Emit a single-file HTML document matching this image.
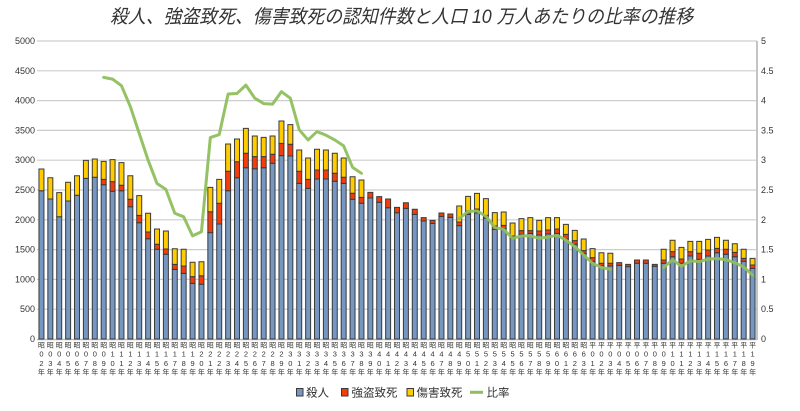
<!DOCTYPE html>
<html><head><meta charset="utf-8"><style>
html,body{margin:0;padding:0;background:#fff;}
svg{display:block;}
text{font-family:"Liberation Sans","Noto Sans CJK JP",sans-serif;fill:#333;}
.cjk{font-family:"Liberation Sans","Noto Sans CJK JP",sans-serif;}
</style></head><body>
<svg width="800" height="411" viewBox="0 0 800 411" xmlns="http://www.w3.org/2000/svg">
<rect width="800" height="411" fill="#fff"/>
<text x="401.5" y="23" font-size="19" font-style="italic" text-anchor="middle" textLength="583" lengthAdjust="spacingAndGlyphs" fill="#333">殺人、強盗致死、傷害致死の認知件数と人口 10 万人あたりの比率の推移</text>
<g stroke="#cdcdcd" stroke-width="1.2">
<line x1="37" x2="757" y1="309.2" y2="309.2"/><line x1="37" x2="757" y1="279.4" y2="279.4"/><line x1="37" x2="757" y1="249.6" y2="249.6"/><line x1="37" x2="757" y1="219.8" y2="219.8"/><line x1="37" x2="757" y1="190" y2="190"/><line x1="37" x2="757" y1="160.2" y2="160.2"/><line x1="37" x2="757" y1="130.4" y2="130.4"/><line x1="37" x2="757" y1="100.6" y2="100.6"/><line x1="37" x2="757" y1="70.8" y2="70.8"/><line x1="37" x2="757" y1="41" y2="41"/>
</g>
<line x1="37" x2="757" y1="339.5" y2="339.5" stroke="#bbb" stroke-width="1.5"/>
<line x1="757" x2="757" y1="41" y2="340" stroke="#c4c4c4" stroke-width="2"/>
<g font-size="9" text-anchor="end">
<text x="35" y="342">0</text><text x="35" y="312.2">500</text><text x="35" y="282.4">1000</text><text x="35" y="252.6">1500</text><text x="35" y="222.8">2000</text><text x="35" y="193">2500</text><text x="35" y="163.2">3000</text><text x="35" y="133.4">3500</text><text x="35" y="103.6">4000</text><text x="35" y="73.8">4500</text><text x="35" y="44">5000</text>
</g>
<g font-size="9">
<text x="761" y="342">0</text><text x="761" y="312.2">0.5</text><text x="761" y="282.4">1</text><text x="761" y="252.6">1.5</text><text x="761" y="222.8">2</text><text x="761" y="193">2.5</text><text x="761" y="163.2">3</text><text x="761" y="133.4">3.5</text><text x="761" y="103.6">4</text><text x="761" y="73.8">4.5</text><text x="761" y="44">5</text>
</g>
<g transform="matrix(8.8889 0 0 -0.0596 32.556 339)" stroke="#3a3a3a" stroke-width="1">
<g fill="#7597c2">
<rect vector-effect="non-scaling-stroke" x="0.72" y="0" width="0.56" height="2488"/>
<rect vector-effect="non-scaling-stroke" x="1.72" y="0" width="0.56" height="2349"/>
<rect vector-effect="non-scaling-stroke" x="2.72" y="0" width="0.56" height="2052"/>
<rect vector-effect="non-scaling-stroke" x="3.72" y="0" width="0.56" height="2315"/>
<rect vector-effect="non-scaling-stroke" x="4.72" y="0" width="0.56" height="2411"/>
<rect vector-effect="non-scaling-stroke" x="5.72" y="0" width="0.56" height="2696"/>
<rect vector-effect="non-scaling-stroke" x="6.72" y="0" width="0.56" height="2713"/>
<rect vector-effect="non-scaling-stroke" x="7.72" y="0" width="0.56" height="2589"/>
<rect vector-effect="non-scaling-stroke" x="8.72" y="0" width="0.56" height="2478"/>
<rect vector-effect="non-scaling-stroke" x="9.72" y="0" width="0.56" height="2488"/>
<rect vector-effect="non-scaling-stroke" x="10.72" y="0" width="0.56" height="2220"/>
<rect vector-effect="non-scaling-stroke" x="11.72" y="0" width="0.56" height="1951"/>
<rect vector-effect="non-scaling-stroke" x="12.72" y="0" width="0.56" height="1683"/>
<rect vector-effect="non-scaling-stroke" x="13.72" y="0" width="0.56" height="1505"/>
<rect vector-effect="non-scaling-stroke" x="14.72" y="0" width="0.56" height="1421"/>
<rect vector-effect="non-scaling-stroke" x="15.72" y="0" width="0.56" height="1169"/>
<rect vector-effect="non-scaling-stroke" x="16.72" y="0" width="0.56" height="1102"/>
<rect vector-effect="non-scaling-stroke" x="17.72" y="0" width="0.56" height="934"/>
<rect vector-effect="non-scaling-stroke" x="18.72" y="0" width="0.56" height="918"/>
<rect vector-effect="non-scaling-stroke" x="19.72" y="0" width="0.56" height="1784"/>
<rect vector-effect="non-scaling-stroke" x="20.72" y="0" width="0.56" height="1930"/>
<rect vector-effect="non-scaling-stroke" x="21.72" y="0" width="0.56" height="2488"/>
<rect vector-effect="non-scaling-stroke" x="22.72" y="0" width="0.56" height="2706"/>
<rect vector-effect="non-scaling-stroke" x="23.72" y="0" width="0.56" height="2874"/>
<rect vector-effect="non-scaling-stroke" x="24.72" y="0" width="0.56" height="2857"/>
<rect vector-effect="non-scaling-stroke" x="25.72" y="0" width="0.56" height="2874"/>
<rect vector-effect="non-scaling-stroke" x="26.72" y="0" width="0.56" height="2948"/>
<rect vector-effect="non-scaling-stroke" x="27.72" y="0" width="0.56" height="3076"/>
<rect vector-effect="non-scaling-stroke" x="28.72" y="0" width="0.56" height="3071"/>
<rect vector-effect="non-scaling-stroke" x="29.72" y="0" width="0.56" height="2612"/>
<rect vector-effect="non-scaling-stroke" x="30.72" y="0" width="0.56" height="2528"/>
<rect vector-effect="non-scaling-stroke" x="31.72" y="0" width="0.56" height="2685"/>
<rect vector-effect="non-scaling-stroke" x="32.72" y="0" width="0.56" height="2685"/>
<rect vector-effect="non-scaling-stroke" x="33.72" y="0" width="0.56" height="2646"/>
<rect vector-effect="non-scaling-stroke" x="34.72" y="0" width="0.56" height="2612"/>
<rect vector-effect="non-scaling-stroke" x="35.72" y="0" width="0.56" height="2344"/>
<rect vector-effect="non-scaling-stroke" x="36.72" y="0" width="0.56" height="2277"/>
<rect vector-effect="non-scaling-stroke" x="37.72" y="0" width="0.56" height="2366"/>
<rect vector-effect="non-scaling-stroke" x="38.72" y="0" width="0.56" height="2294"/>
<rect vector-effect="non-scaling-stroke" x="39.72" y="0" width="0.56" height="2203"/>
<rect vector-effect="non-scaling-stroke" x="40.72" y="0" width="0.56" height="2119"/>
<rect vector-effect="non-scaling-stroke" x="41.72" y="0" width="0.56" height="2192"/>
<rect vector-effect="non-scaling-stroke" x="42.72" y="0" width="0.56" height="2092"/>
<rect vector-effect="non-scaling-stroke" x="43.72" y="0" width="0.56" height="1980"/>
<rect vector-effect="non-scaling-stroke" x="44.72" y="0" width="0.56" height="1941"/>
<rect vector-effect="non-scaling-stroke" x="45.72" y="0" width="0.56" height="2058"/>
<rect vector-effect="non-scaling-stroke" x="46.72" y="0" width="0.56" height="2041"/>
<rect vector-effect="non-scaling-stroke" x="47.72" y="0" width="0.56" height="1902"/>
<rect vector-effect="non-scaling-stroke" x="48.72" y="0" width="0.56" height="2092"/>
<rect vector-effect="non-scaling-stroke" x="49.72" y="0" width="0.56" height="2114"/>
<rect vector-effect="non-scaling-stroke" x="50.72" y="0" width="0.56" height="2025"/>
<rect vector-effect="non-scaling-stroke" x="51.72" y="0" width="0.56" height="1840"/>
<rect vector-effect="non-scaling-stroke" x="52.72" y="0" width="0.56" height="1851"/>
<rect vector-effect="non-scaling-stroke" x="53.72" y="0" width="0.56" height="1689"/>
<rect vector-effect="non-scaling-stroke" x="54.72" y="0" width="0.56" height="1756"/>
<rect vector-effect="non-scaling-stroke" x="55.72" y="0" width="0.56" height="1773"/>
<rect vector-effect="non-scaling-stroke" x="56.72" y="0" width="0.56" height="1745"/>
<rect vector-effect="non-scaling-stroke" x="57.72" y="0" width="0.56" height="1762"/>
<rect vector-effect="non-scaling-stroke" x="58.72" y="0" width="0.56" height="1773"/>
<rect vector-effect="non-scaling-stroke" x="59.72" y="0" width="0.56" height="1678"/>
<rect vector-effect="non-scaling-stroke" x="60.72" y="0" width="0.56" height="1588"/>
<rect vector-effect="non-scaling-stroke" x="61.72" y="0" width="0.56" height="1437"/>
<rect vector-effect="non-scaling-stroke" x="62.72" y="0" width="0.56" height="1303"/>
<rect vector-effect="non-scaling-stroke" x="63.72" y="0" width="0.56" height="1230"/>
<rect vector-effect="non-scaling-stroke" x="64.72" y="0" width="0.56" height="1225"/>
<rect vector-effect="non-scaling-stroke" x="65.72" y="0" width="0.56" height="1236"/>
<rect vector-effect="non-scaling-stroke" x="66.72" y="0" width="0.56" height="1214"/>
<rect vector-effect="non-scaling-stroke" x="67.72" y="0" width="0.56" height="1270"/>
<rect vector-effect="non-scaling-stroke" x="68.72" y="0" width="0.56" height="1270"/>
<rect vector-effect="non-scaling-stroke" x="69.72" y="0" width="0.56" height="1220"/>
<rect vector-effect="non-scaling-stroke" x="70.72" y="0" width="0.56" height="1270"/>
<rect vector-effect="non-scaling-stroke" x="71.72" y="0" width="0.56" height="1381"/>
<rect vector-effect="non-scaling-stroke" x="72.72" y="0" width="0.56" height="1270"/>
<rect vector-effect="non-scaling-stroke" x="73.72" y="0" width="0.56" height="1393"/>
<rect vector-effect="non-scaling-stroke" x="74.72" y="0" width="0.56" height="1337"/>
<rect vector-effect="non-scaling-stroke" x="75.72" y="0" width="0.56" height="1393"/>
<rect vector-effect="non-scaling-stroke" x="76.72" y="0" width="0.56" height="1448"/>
<rect vector-effect="non-scaling-stroke" x="77.72" y="0" width="0.56" height="1421"/>
<rect vector-effect="non-scaling-stroke" x="78.72" y="0" width="0.56" height="1381"/>
<rect vector-effect="non-scaling-stroke" x="79.72" y="0" width="0.56" height="1304"/>
<rect vector-effect="non-scaling-stroke" x="80.72" y="0" width="0.56" height="1186"/>
</g>
<g fill="#f53d0a">
<rect vector-effect="non-scaling-stroke" x="7.72" y="2589" width="0.56" height="90"/>
<rect vector-effect="non-scaling-stroke" x="8.72" y="2478" width="0.56" height="162"/>
<rect vector-effect="non-scaling-stroke" x="9.72" y="2488" width="0.56" height="91"/>
<rect vector-effect="non-scaling-stroke" x="10.72" y="2220" width="0.56" height="124"/>
<rect vector-effect="non-scaling-stroke" x="11.72" y="1951" width="0.56" height="124"/>
<rect vector-effect="non-scaling-stroke" x="12.72" y="1683" width="0.56" height="112"/>
<rect vector-effect="non-scaling-stroke" x="13.72" y="1505" width="0.56" height="84"/>
<rect vector-effect="non-scaling-stroke" x="14.72" y="1421" width="0.56" height="89"/>
<rect vector-effect="non-scaling-stroke" x="15.72" y="1169" width="0.56" height="84"/>
<rect vector-effect="non-scaling-stroke" x="16.72" y="1102" width="0.56" height="123"/>
<rect vector-effect="non-scaling-stroke" x="17.72" y="934" width="0.56" height="112"/>
<rect vector-effect="non-scaling-stroke" x="18.72" y="918" width="0.56" height="144"/>
<rect vector-effect="non-scaling-stroke" x="19.72" y="1784" width="0.56" height="352"/>
<rect vector-effect="non-scaling-stroke" x="20.72" y="1930" width="0.56" height="347"/>
<rect vector-effect="non-scaling-stroke" x="21.72" y="2488" width="0.56" height="326"/>
<rect vector-effect="non-scaling-stroke" x="22.72" y="2706" width="0.56" height="269"/>
<rect vector-effect="non-scaling-stroke" x="23.72" y="2874" width="0.56" height="242"/>
<rect vector-effect="non-scaling-stroke" x="24.72" y="2857" width="0.56" height="202"/>
<rect vector-effect="non-scaling-stroke" x="25.72" y="2874" width="0.56" height="185"/>
<rect vector-effect="non-scaling-stroke" x="26.72" y="2948" width="0.56" height="151"/>
<rect vector-effect="non-scaling-stroke" x="27.72" y="3076" width="0.56" height="207"/>
<rect vector-effect="non-scaling-stroke" x="28.72" y="3071" width="0.56" height="196"/>
<rect vector-effect="non-scaling-stroke" x="29.72" y="2612" width="0.56" height="202"/>
<rect vector-effect="non-scaling-stroke" x="30.72" y="2528" width="0.56" height="151"/>
<rect vector-effect="non-scaling-stroke" x="31.72" y="2685" width="0.56" height="151"/>
<rect vector-effect="non-scaling-stroke" x="32.72" y="2685" width="0.56" height="151"/>
<rect vector-effect="non-scaling-stroke" x="33.72" y="2646" width="0.56" height="134"/>
<rect vector-effect="non-scaling-stroke" x="34.72" y="2612" width="0.56" height="101"/>
<rect vector-effect="non-scaling-stroke" x="35.72" y="2344" width="0.56" height="101"/>
<rect vector-effect="non-scaling-stroke" x="36.72" y="2277" width="0.56" height="100"/>
<rect vector-effect="non-scaling-stroke" x="37.72" y="2366" width="0.56" height="95"/>
<rect vector-effect="non-scaling-stroke" x="38.72" y="2294" width="0.56" height="94"/>
<rect vector-effect="non-scaling-stroke" x="39.72" y="2203" width="0.56" height="146"/>
<rect vector-effect="non-scaling-stroke" x="40.72" y="2119" width="0.56" height="90"/>
<rect vector-effect="non-scaling-stroke" x="41.72" y="2192" width="0.56" height="95"/>
<rect vector-effect="non-scaling-stroke" x="42.72" y="2092" width="0.56" height="84"/>
<rect vector-effect="non-scaling-stroke" x="43.72" y="1980" width="0.56" height="56"/>
<rect vector-effect="non-scaling-stroke" x="44.72" y="1941" width="0.56" height="50"/>
<rect vector-effect="non-scaling-stroke" x="45.72" y="2058" width="0.56" height="56"/>
<rect vector-effect="non-scaling-stroke" x="46.72" y="2041" width="0.56" height="56"/>
<rect vector-effect="non-scaling-stroke" x="47.72" y="1902" width="0.56" height="61"/>
<rect vector-effect="non-scaling-stroke" x="48.72" y="2092" width="0.56" height="56"/>
<rect vector-effect="non-scaling-stroke" x="49.72" y="2114" width="0.56" height="67"/>
<rect vector-effect="non-scaling-stroke" x="50.72" y="2025" width="0.56" height="50"/>
<rect vector-effect="non-scaling-stroke" x="51.72" y="1840" width="0.56" height="56"/>
<rect vector-effect="non-scaling-stroke" x="52.72" y="1851" width="0.56" height="56"/>
<rect vector-effect="non-scaling-stroke" x="53.72" y="1689" width="0.56" height="39"/>
<rect vector-effect="non-scaling-stroke" x="54.72" y="1756" width="0.56" height="62"/>
<rect vector-effect="non-scaling-stroke" x="55.72" y="1773" width="0.56" height="45"/>
<rect vector-effect="non-scaling-stroke" x="56.72" y="1745" width="0.56" height="67"/>
<rect vector-effect="non-scaling-stroke" x="57.72" y="1762" width="0.56" height="67"/>
<rect vector-effect="non-scaling-stroke" x="58.72" y="1773" width="0.56" height="73"/>
<rect vector-effect="non-scaling-stroke" x="59.72" y="1678" width="0.56" height="78"/>
<rect vector-effect="non-scaling-stroke" x="60.72" y="1588" width="0.56" height="62"/>
<rect vector-effect="non-scaling-stroke" x="61.72" y="1437" width="0.56" height="45"/>
<rect vector-effect="non-scaling-stroke" x="62.72" y="1303" width="0.56" height="62"/>
<rect vector-effect="non-scaling-stroke" x="63.72" y="1230" width="0.56" height="40"/>
<rect vector-effect="non-scaling-stroke" x="64.72" y="1225" width="0.56" height="45"/>
<rect vector-effect="non-scaling-stroke" x="65.72" y="1236" width="0.56" height="45"/>
<rect vector-effect="non-scaling-stroke" x="66.72" y="1214" width="0.56" height="39"/>
<rect vector-effect="non-scaling-stroke" x="67.72" y="1270" width="0.56" height="56"/>
<rect vector-effect="non-scaling-stroke" x="68.72" y="1270" width="0.56" height="56"/>
<rect vector-effect="non-scaling-stroke" x="69.72" y="1220" width="0.56" height="33"/>
<rect vector-effect="non-scaling-stroke" x="70.72" y="1270" width="0.56" height="56"/>
<rect vector-effect="non-scaling-stroke" x="71.72" y="1381" width="0.56" height="84"/>
<rect vector-effect="non-scaling-stroke" x="72.72" y="1270" width="0.56" height="72"/>
<rect vector-effect="non-scaling-stroke" x="73.72" y="1393" width="0.56" height="72"/>
<rect vector-effect="non-scaling-stroke" x="74.72" y="1337" width="0.56" height="101"/>
<rect vector-effect="non-scaling-stroke" x="75.72" y="1393" width="0.56" height="100"/>
<rect vector-effect="non-scaling-stroke" x="76.72" y="1448" width="0.56" height="73"/>
<rect vector-effect="non-scaling-stroke" x="77.72" y="1421" width="0.56" height="84"/>
<rect vector-effect="non-scaling-stroke" x="78.72" y="1381" width="0.56" height="73"/>
<rect vector-effect="non-scaling-stroke" x="79.72" y="1304" width="0.56" height="49"/>
<rect vector-effect="non-scaling-stroke" x="80.72" y="1186" width="0.56" height="56"/>
</g>
<g fill="#ffcc00">
<rect vector-effect="non-scaling-stroke" x="0.72" y="2488" width="0.56" height="364"/>
<rect vector-effect="non-scaling-stroke" x="1.72" y="2349" width="0.56" height="357"/>
<rect vector-effect="non-scaling-stroke" x="2.72" y="2052" width="0.56" height="403"/>
<rect vector-effect="non-scaling-stroke" x="3.72" y="2315" width="0.56" height="314"/>
<rect vector-effect="non-scaling-stroke" x="4.72" y="2411" width="0.56" height="329"/>
<rect vector-effect="non-scaling-stroke" x="5.72" y="2696" width="0.56" height="302"/>
<rect vector-effect="non-scaling-stroke" x="6.72" y="2713" width="0.56" height="307"/>
<rect vector-effect="non-scaling-stroke" x="7.72" y="2679" width="0.56" height="302"/>
<rect vector-effect="non-scaling-stroke" x="8.72" y="2640" width="0.56" height="369"/>
<rect vector-effect="non-scaling-stroke" x="9.72" y="2579" width="0.56" height="380"/>
<rect vector-effect="non-scaling-stroke" x="10.72" y="2344" width="0.56" height="396"/>
<rect vector-effect="non-scaling-stroke" x="11.72" y="2075" width="0.56" height="330"/>
<rect vector-effect="non-scaling-stroke" x="12.72" y="1795" width="0.56" height="314"/>
<rect vector-effect="non-scaling-stroke" x="13.72" y="1589" width="0.56" height="257"/>
<rect vector-effect="non-scaling-stroke" x="14.72" y="1510" width="0.56" height="302"/>
<rect vector-effect="non-scaling-stroke" x="15.72" y="1253" width="0.56" height="262"/>
<rect vector-effect="non-scaling-stroke" x="16.72" y="1225" width="0.56" height="280"/>
<rect vector-effect="non-scaling-stroke" x="17.72" y="1046" width="0.56" height="241"/>
<rect vector-effect="non-scaling-stroke" x="18.72" y="1062" width="0.56" height="235"/>
<rect vector-effect="non-scaling-stroke" x="19.72" y="2136" width="0.56" height="409"/>
<rect vector-effect="non-scaling-stroke" x="20.72" y="2277" width="0.56" height="402"/>
<rect vector-effect="non-scaling-stroke" x="21.72" y="2814" width="0.56" height="458"/>
<rect vector-effect="non-scaling-stroke" x="22.72" y="2975" width="0.56" height="381"/>
<rect vector-effect="non-scaling-stroke" x="23.72" y="3116" width="0.56" height="419"/>
<rect vector-effect="non-scaling-stroke" x="24.72" y="3059" width="0.56" height="347"/>
<rect vector-effect="non-scaling-stroke" x="25.72" y="3059" width="0.56" height="325"/>
<rect vector-effect="non-scaling-stroke" x="26.72" y="3099" width="0.56" height="307"/>
<rect vector-effect="non-scaling-stroke" x="27.72" y="3283" width="0.56" height="375"/>
<rect vector-effect="non-scaling-stroke" x="28.72" y="3267" width="0.56" height="329"/>
<rect vector-effect="non-scaling-stroke" x="29.72" y="2814" width="0.56" height="357"/>
<rect vector-effect="non-scaling-stroke" x="30.72" y="2679" width="0.56" height="358"/>
<rect vector-effect="non-scaling-stroke" x="31.72" y="2836" width="0.56" height="347"/>
<rect vector-effect="non-scaling-stroke" x="32.72" y="2836" width="0.56" height="335"/>
<rect vector-effect="non-scaling-stroke" x="33.72" y="2780" width="0.56" height="336"/>
<rect vector-effect="non-scaling-stroke" x="34.72" y="2713" width="0.56" height="324"/>
<rect vector-effect="non-scaling-stroke" x="35.72" y="2445" width="0.56" height="278"/>
<rect vector-effect="non-scaling-stroke" x="36.72" y="2377" width="0.56" height="291"/>
<rect vector-effect="non-scaling-stroke" x="47.72" y="1963" width="0.56" height="269"/>
<rect vector-effect="non-scaling-stroke" x="48.72" y="2148" width="0.56" height="246"/>
<rect vector-effect="non-scaling-stroke" x="49.72" y="2181" width="0.56" height="263"/>
<rect vector-effect="non-scaling-stroke" x="50.72" y="2075" width="0.56" height="280"/>
<rect vector-effect="non-scaling-stroke" x="51.72" y="1896" width="0.56" height="224"/>
<rect vector-effect="non-scaling-stroke" x="52.72" y="1907" width="0.56" height="224"/>
<rect vector-effect="non-scaling-stroke" x="53.72" y="1728" width="0.56" height="218"/>
<rect vector-effect="non-scaling-stroke" x="54.72" y="1818" width="0.56" height="201"/>
<rect vector-effect="non-scaling-stroke" x="55.72" y="1818" width="0.56" height="218"/>
<rect vector-effect="non-scaling-stroke" x="56.72" y="1812" width="0.56" height="179"/>
<rect vector-effect="non-scaling-stroke" x="57.72" y="1829" width="0.56" height="207"/>
<rect vector-effect="non-scaling-stroke" x="58.72" y="1846" width="0.56" height="190"/>
<rect vector-effect="non-scaling-stroke" x="59.72" y="1756" width="0.56" height="168"/>
<rect vector-effect="non-scaling-stroke" x="60.72" y="1650" width="0.56" height="173"/>
<rect vector-effect="non-scaling-stroke" x="61.72" y="1482" width="0.56" height="196"/>
<rect vector-effect="non-scaling-stroke" x="62.72" y="1365" width="0.56" height="151"/>
<rect vector-effect="non-scaling-stroke" x="63.72" y="1270" width="0.56" height="178"/>
<rect vector-effect="non-scaling-stroke" x="64.72" y="1270" width="0.56" height="168"/>
<rect vector-effect="non-scaling-stroke" x="70.72" y="1326" width="0.56" height="179"/>
<rect vector-effect="non-scaling-stroke" x="71.72" y="1465" width="0.56" height="191"/>
<rect vector-effect="non-scaling-stroke" x="72.72" y="1342" width="0.56" height="196"/>
<rect vector-effect="non-scaling-stroke" x="73.72" y="1465" width="0.56" height="174"/>
<rect vector-effect="non-scaling-stroke" x="74.72" y="1438" width="0.56" height="201"/>
<rect vector-effect="non-scaling-stroke" x="75.72" y="1493" width="0.56" height="179"/>
<rect vector-effect="non-scaling-stroke" x="76.72" y="1521" width="0.56" height="185"/>
<rect vector-effect="non-scaling-stroke" x="77.72" y="1505" width="0.56" height="151"/>
<rect vector-effect="non-scaling-stroke" x="78.72" y="1454" width="0.56" height="145"/>
<rect vector-effect="non-scaling-stroke" x="79.72" y="1353" width="0.56" height="152"/>
<rect vector-effect="non-scaling-stroke" x="80.72" y="1242" width="0.56" height="111"/>
</g>
</g>
<g transform="matrix(8.8889 0 0 -59.6 32.556 339)" fill="none" stroke="#8fbf5c" stroke-width="3" stroke-linejoin="round" stroke-linecap="round" opacity="0.95">
<polyline vector-effect="non-scaling-stroke" points="8,4.39 9,4.36 10,4.25 11,3.90 12,3.45 13,3.0 14,2.61 15,2.51 16,2.11 17,2.05 18,1.73 19,1.80 20,3.38 21,3.43 22,4.11 23,4.12 24,4.26 25,4.04 26,3.95 27,3.94 28,4.15 29,4.04 30,3.51 31,3.34 32,3.48 33,3.42 34,3.34 35,3.24 36,2.88 37,2.78"/>
<polyline vector-effect="non-scaling-stroke" points="48,2.02 49,2.14 50,2.15 51,2.06 52,1.87 53,1.84 54,1.69 55,1.73 56,1.73 57,1.69 58,1.71 59,1.74 60,1.66 61,1.55 62,1.41 63,1.27 64,1.20 65,1.17"/>
<polyline vector-effect="non-scaling-stroke" points="71,1.20 72,1.33 73,1.22 74,1.31 75,1.30 76,1.34 77,1.35 78,1.33 79,1.28 80,1.21 81,1.07"/>
</g>
<g text-anchor="middle" fill="#333">
<text class="cjk" font-size="7" y="347.5" x="41.4 50.3 59.2 68.1 77 85.9 94.8 103.7 112.6 121.4 130.3 139.2 148.1 157 165.9 174.8 183.7 192.6 201.4 210.3 219.2 228.1 237 245.9 254.8 263.7 272.6 281.4 290.3 299.2 308.1 317 325.9 334.8 343.7 352.6 361.4 370.3 379.2 388.1 397 405.9 414.8 423.7 432.6 441.4 450.3 459.2 468.1 477 485.9 494.8 503.7 512.6 521.4 530.3 539.2 548.1 557 565.9 574.8 583.7 592.6 601.4 610.3 619.2 628.1 637 645.9 654.8 663.7 672.6 681.4 690.3 699.2 708.1 717 725.9 734.8 743.7 752.6">昭昭昭昭昭昭昭昭昭昭昭昭昭昭昭昭昭昭昭昭昭昭昭昭昭昭昭昭昭昭昭昭昭昭昭昭昭昭昭昭昭昭昭昭昭昭昭昭昭昭昭昭昭昭昭昭昭昭昭昭昭昭平平平平平平平平平平平平平平平平平平平</text>
<text font-size="7.5" y="356.5" x="41.4 50.3 59.2 68.1 77 85.9 94.8 103.7 112.6 121.4 130.3 139.2 148.1 157 165.9 174.8 183.7 192.6 201.4 210.3 219.2 228.1 237 245.9 254.8 263.7 272.6 281.4 290.3 299.2 308.1 317 325.9 334.8 343.7 352.6 361.4 370.3 379.2 388.1 397 405.9 414.8 423.7 432.6 441.4 450.3 459.2 468.1 477 485.9 494.8 503.7 512.6 521.4 530.3 539.2 548.1 557 565.9 574.8 583.7 592.6 601.4 610.3 619.2 628.1 637 645.9 654.8 663.7 672.6 681.4 690.3 699.2 708.1 717 725.9 734.8 743.7 752.6">000000001111111111222222222233333333334444444444555555555566660000000001111111111</text>
<text font-size="7.5" y="366.2" x="41.4 50.3 59.2 68.1 77 85.9 94.8 103.7 112.6 121.4 130.3 139.2 148.1 157 165.9 174.8 183.7 192.6 201.4 210.3 219.2 228.1 237 245.9 254.8 263.7 272.6 281.4 290.3 299.2 308.1 317 325.9 334.8 343.7 352.6 361.4 370.3 379.2 388.1 397 405.9 414.8 423.7 432.6 441.4 450.3 459.2 468.1 477 485.9 494.8 503.7 512.6 521.4 530.3 539.2 548.1 557 565.9 574.8 583.7 592.6 601.4 610.3 619.2 628.1 637 645.9 654.8 663.7 672.6 681.4 690.3 699.2 708.1 717 725.9 734.8 743.7 752.6">234567890123456789012345678901234567890123456789012345678901231234567890123456789</text>
<text class="cjk" font-size="7" y="374.5" x="41.4 50.3 59.2 68.1 77 85.9 94.8 103.7 112.6 121.4 130.3 139.2 148.1 157 165.9 174.8 183.7 192.6 201.4 210.3 219.2 228.1 237 245.9 254.8 263.7 272.6 281.4 290.3 299.2 308.1 317 325.9 334.8 343.7 352.6 361.4 370.3 379.2 388.1 397 405.9 414.8 423.7 432.6 441.4 450.3 459.2 468.1 477 485.9 494.8 503.7 512.6 521.4 530.3 539.2 548.1 557 565.9 574.8 583.7 592.6 601.4 610.3 619.2 628.1 637 645.9 654.8 663.7 672.6 681.4 690.3 699.2 708.1 717 725.9 734.8 743.7 752.6">年年年年年年年年年年年年年年年年年年年年年年年年年年年年年年年年年年年年年年年年年年年年年年年年年年年年年年年年年年年年年年年年年年年年年年年年年年年年年年年年年</text>
</g>
<g font-size="11.5">
<rect x="296.5" y="388.5" width="6.5" height="7.5" fill="#7597c2" stroke="#3a3a3a" stroke-width="1"/>
<text x="306" y="396.5">殺人</text>
<rect x="341.5" y="388.5" width="6.5" height="7.5" fill="#f53d0a" stroke="#3a3a3a" stroke-width="1"/>
<text x="351.5" y="396.5">強盗致死</text>
<rect x="407" y="388.5" width="6.5" height="7.5" fill="#ffcc00" stroke="#3a3a3a" stroke-width="1"/>
<text x="416.5" y="396.5">傷害致死</text>
<line x1="470" x2="483" y1="392.3" y2="392.3" stroke="#8fbf5c" stroke-width="3"/>
<text x="486.5" y="396.5">比率</text>
</g>
</svg>
</body></html>
